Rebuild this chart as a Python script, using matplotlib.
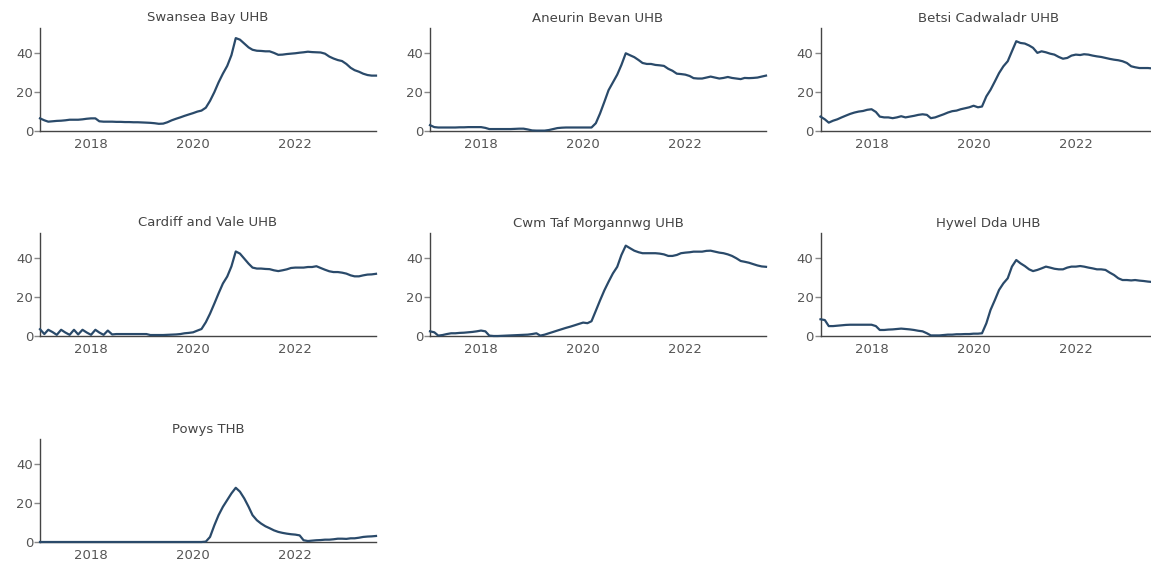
import matplotlib
matplotlib.use("Agg")
import matplotlib.pyplot as plt
import matplotlib.dates as mdates
import pandas as pd

dates = pd.date_range("2017-01-01", periods=80, freq="MS")

titles = ["Swansea Bay UHB", "Aneurin Bevan UHB", "Betsi Cadwaladr UHB",
          "Cardiff and Vale UHB", "Cwm Taf Morgannwg UHB", "Hywel Dda UHB",
          "Powys THB"]

swansea = [6.5, 5.5, 4.8, 5.0, 5.2, 5.3, 5.5, 5.8, 5.8, 5.8, 6.0, 6.3,
           6.5, 6.5, 5.0, 4.8, 4.8, 4.8, 4.7, 4.7, 4.6, 4.6, 4.5, 4.5,
           4.4, 4.3, 4.2, 4.0, 3.7, 3.8, 4.5, 5.5, 6.3, 7.0, 7.8, 8.5,
           9.2, 10.0, 10.5, 12.0, 15.5, 20.0, 25.0, 29.5, 33.5, 39.0, 47.8, 47.0,
           45.0, 43.0, 41.8, 41.3, 41.2, 41.0, 41.0, 40.2, 39.2, 39.3, 39.6, 39.8,
           40.0, 40.3, 40.5, 40.8, 40.6, 40.5, 40.4, 39.8, 38.3, 37.3, 36.5, 36.0,
           34.5, 32.5, 31.3, 30.5, 29.5, 28.8, 28.5, 28.5]

aneurin = [3.0, 2.0, 1.8, 1.8, 1.8, 1.8, 1.8, 1.9, 1.9, 2.0, 2.0, 2.0,
           2.0, 1.6, 1.0, 1.0, 1.0, 1.0, 1.0, 1.0, 1.1, 1.2, 1.2, 0.8,
           0.3, 0.2, 0.2, 0.2, 0.5, 1.0, 1.5, 1.7, 1.8, 1.8, 1.8, 1.8,
           1.8, 1.8, 1.8, 4.0, 9.0, 15.0, 21.0, 25.0, 29.0, 34.0, 40.0, 39.0,
           38.0, 36.5, 35.0, 34.5, 34.5, 34.0, 33.8, 33.5, 32.0, 31.0, 29.5, 29.3,
           29.0, 28.3, 27.2, 27.0, 27.0, 27.5, 28.0, 27.5, 27.0, 27.3, 27.8, 27.3,
           27.0, 26.7, 27.3, 27.2, 27.3, 27.5, 28.0, 28.5]

betsi = [7.4, 6.0, 4.3, 5.3, 6.0, 7.0, 7.9, 8.8, 9.5, 10.0, 10.3, 10.9,
         11.2, 9.8, 7.4, 7.0, 7.0, 6.6, 7.0, 7.6, 7.0, 7.4, 7.8, 8.3,
         8.6, 8.3, 6.6, 7.0, 7.8, 8.6, 9.5, 10.2, 10.5, 11.2, 11.7, 12.2,
         13.0, 12.2, 12.6, 17.8, 21.2, 25.5, 29.8, 33.3, 35.9, 41.0, 46.2, 45.3,
         45.0, 44.0, 42.8, 40.2, 41.0, 40.5, 39.8, 39.3, 38.1, 37.2, 37.6, 38.8,
         39.3, 39.1, 39.5, 39.3, 38.8, 38.4, 38.1, 37.6, 37.1, 36.7, 36.4, 35.9,
         35.0, 33.3, 32.8, 32.4, 32.4, 32.4, 32.2, 32.0]

cardiff = [3.5, 1.0, 3.2, 2.0, 0.6, 3.2, 1.8, 0.6, 3.2, 0.8, 3.2, 1.8,
           0.6, 3.2, 1.8, 0.6, 2.8, 0.8, 1.0, 1.0, 1.0, 1.0, 1.0, 1.0,
           1.0, 1.0, 0.5, 0.5, 0.5, 0.5, 0.6, 0.7, 0.8, 1.0, 1.4, 1.6,
           1.9, 2.8, 3.6, 7.1, 11.5, 16.7, 21.9, 27.0, 30.6, 35.8, 43.5, 42.4,
           39.8, 37.2, 35.2, 34.7, 34.7, 34.5, 34.4, 33.8, 33.4, 33.8, 34.3, 35.0,
           35.2, 35.2, 35.2, 35.5, 35.5, 35.9, 35.0, 34.1, 33.3, 32.9, 32.9, 32.6,
           32.1, 31.2, 30.7, 30.7, 31.2, 31.6, 31.7, 32.0]

cwmtaf = [2.4, 1.9, 0.2, 0.5, 1.0, 1.4, 1.4, 1.6, 1.7, 1.9, 2.1, 2.4,
          2.8, 2.4, 0.2, 0.0, 0.0, 0.1, 0.2, 0.3, 0.4, 0.5, 0.6, 0.7,
          1.0, 1.4, 0.2, 0.7, 1.4, 2.1, 2.8, 3.5, 4.2, 4.8, 5.5, 6.2,
          6.9, 6.6, 7.6, 13.0, 18.3, 23.5, 27.9, 32.2, 35.6, 41.7, 46.5, 45.2,
          43.9, 43.1, 42.6, 42.6, 42.6, 42.6, 42.4, 42.0, 41.2, 41.2, 41.7, 42.6,
          42.9, 43.1, 43.4, 43.4, 43.4, 43.8, 43.9, 43.4, 42.9, 42.6, 42.0, 41.2,
          40.0, 38.6, 38.2, 37.7, 37.0, 36.3, 35.8, 35.6]

hywel = [8.6, 8.2, 5.1, 5.1, 5.3, 5.5, 5.7, 5.8, 5.8, 5.8, 5.8, 5.8,
         5.8, 5.1, 3.1, 3.1, 3.3, 3.4, 3.6, 3.8, 3.6, 3.4, 3.1, 2.7,
         2.4, 1.4, 0.3, 0.3, 0.3, 0.5, 0.7, 0.7, 0.9, 0.9, 1.0, 1.0,
         1.2, 1.2, 1.4, 6.5, 13.4, 18.5, 23.7, 27.1, 29.7, 35.7, 39.1, 37.4,
         36.0, 34.3, 33.4, 34.0, 34.8, 35.7, 35.2, 34.6, 34.3, 34.3, 35.2, 35.7,
         35.7, 36.0, 35.7, 35.2, 34.8, 34.3, 34.3, 34.0, 32.6, 31.4, 29.7, 28.8,
         28.8, 28.6, 28.8, 28.5, 28.3, 28.0, 27.8, 27.5]

powys = [0.0, 0.0, 0.0, 0.0, 0.0, 0.0, 0.0, 0.0, 0.0, 0.0, 0.0, 0.0,
         0.0, 0.0, 0.0, 0.0, 0.0, 0.0, 0.0, 0.0, 0.0, 0.0, 0.0, 0.0,
         0.0, 0.0, 0.0, 0.0, 0.0, 0.0, 0.0, 0.0, 0.0, 0.0, 0.0, 0.0,
         0.0, 0.0, 0.0, 0.2, 2.6, 8.6, 13.8, 18.1, 21.6, 25.0, 27.9, 25.9,
         22.4, 18.1, 13.8, 11.2, 9.5, 8.1, 7.1, 6.0, 5.2, 4.7, 4.3, 4.0,
         3.8, 3.4, 0.9, 0.5, 0.7, 0.9, 1.0, 1.2, 1.2, 1.4, 1.7, 1.7,
         1.6, 1.9, 1.9, 2.2, 2.6, 2.8, 2.9, 3.1]

series = [swansea, aneurin, betsi, cardiff, cwmtaf, hywel, powys]
yticks = [0, 20, 40]
xtick_years = [2018, 2020, 2022]

W, H = 1151, 565
fig = plt.figure(figsize=(W / 100, H / 100), dpi=100)
plt.rcParams['font.family'] = ['DejaVu Sans']

col_left = [40, 430, 820.5]
ax_w = 336
row_top = [28, 233, 439]
row_bot = [131, 336, 542]

line_color = '#2a4a6a'
axis_color = '#444444'
text_color = '#555555'

for i, (title, vals) in enumerate(zip(titles, series)):
    r, c = divmod(i, 3)
    x0 = col_left[c]
    y0 = row_top[r]
    h = row_bot[r] - y0
    ax = fig.add_axes([x0 / W, 1 - row_bot[r] / H, ax_w / W, h / H])
    ax.plot(dates, vals, color=line_color, lw=1.6, clip_on=False, zorder=3)
    ax.set_xlim(dates[0], dates[-1])
    ax.set_ylim(0, 53)
    ax.set_yticks(yticks)
    ax.set_xticks([pd.Timestamp(f"{y}-01-01") for y in xtick_years])
    ax.xaxis.set_major_formatter(mdates.DateFormatter('%Y'))
    for s in ['top', 'right']:
        ax.spines[s].set_visible(False)
    for s in ['left', 'bottom']:
        ax.spines[s].set_color(axis_color)
        ax.spines[s].set_linewidth(1.0)
    ax.tick_params(axis='y', length=4, width=1, color='#888888', pad=1,
                   labelsize=9.5, labelcolor=text_color)
    ax.tick_params(axis='x', length=0, pad=5, labelsize=9.5, labelcolor=text_color)
    ax.patch.set_alpha(0)
    ax.text(0.5, 1 + 10 / h, title, transform=ax.transAxes, ha='center', va='center',
            fontsize=9.5, color='#444444')

fig.savefig("out.png", dpi=100)
